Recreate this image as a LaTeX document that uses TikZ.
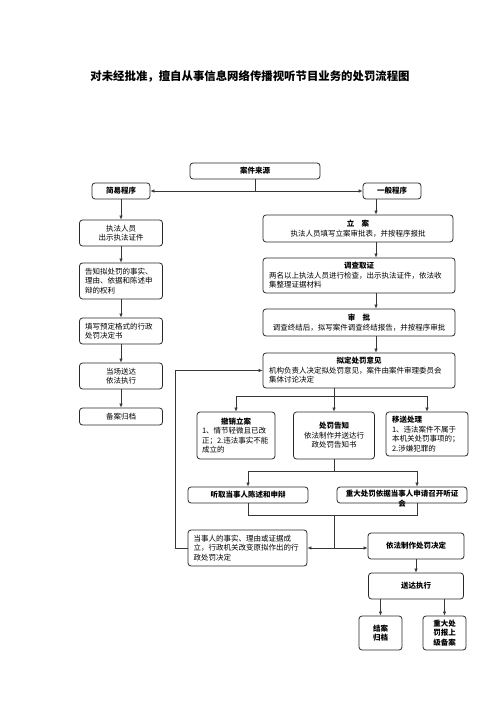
\documentclass[tikz,border=0pt]{standalone}
\usepackage{fontspec}
\setmainfont{Noto Sans CJK SC}
\usepackage{tikz}
\usetikzlibrary{arrows.meta,positioning,calc}
\definecolor{boxline}{RGB}{40,40,40}
\definecolor{flowline}{RGB}{55,55,55}
\tikzset{
  box/.style={draw=boxline,rounded corners=3pt,line width=0.8pt,inner sep=0pt,
    font=\fontsize{7.5}{9.5}\selectfont},
  flow/.style={line width=0.7pt,draw=flowline},
  arr/.style={-{Latex[length=4pt,width=3.6pt]},line width=0.7pt,draw=flowline}
}
\newcommand{\boxhead}[1]{\makebox[\linewidth]{\bfseries #1}}

\begin{document}
\begin{tikzpicture}[
  x=1pt,y=-1pt,
  titletext/.style={font=\bfseries\fontsize{11.4}{14}\selectfont},
  plain/.style={inner sep=0pt,font=\fontsize{7.5}{9.5}\selectfont}
]
\useasboundingbox (0,0) rectangle (500,708);

\node[titletext] (title) at (250,76)
  {对未经批准，擅自从事信息网络传播视听节目业务的处罚流程图};

% source and the two procedures
\node[box,minimum width=130pt,minimum height=16pt] (src) at (255,171) {\bfseries 案件来源};
\node[box,minimum width=58pt,minimum height=16pt] (simple) at (121,191) {\bfseries 简易程序};
\node[box,minimum width=58pt,minimum height=16pt] (general) at (392,191) {\bfseries 一般程序};

% simple procedure
\node[box,minimum width=83pt,minimum height=26pt,align=center] (s1) at (121,233)
  {执法人员\\出示执法证件};
\node[box,minimum width=83pt,minimum height=36pt,text width=72pt,align=left] (s2) at (121,281)
  {告知拟处罚的事实、\\理由、依据和陈述申\\辩的权利};
\node[box,minimum width=83pt,minimum height=26pt,text width=72pt,align=left] (s3) at (121,331)
  {填写预定格式的行政\\处罚决定书};
\node[box,minimum width=83pt,minimum height=26pt,align=center] (s4) at (121,376)
  {当场送达\\依法执行};
\node[box,minimum width=83pt,minimum height=17pt] (s5) at (121,416.5) {备案归档};

% general procedure
\node[box,minimum width=190pt,minimum height=27pt,text width=172pt,align=left] (g1) at (358,228.5)
  {\boxhead{立\quad 案}\\\makebox[\linewidth]{执法人员填写立案审批表，并按程序报批}};
\node[box,minimum width=192pt,minimum height=35pt,text width=180pt,align=left] (g2) at (359,275.5)
  {\boxhead{调查取证}\\两名以上执法人员进行检查，出示执法证件，依法收\\集整理证据材料};
\node[box,minimum width=192pt,minimum height=27pt,text width=180pt,align=left] (g3) at (359,322.5)
  {\boxhead{审\quad 批}\\\makebox[\linewidth]{调查终结后，拟写案件调查终结报告，并按程序审批}};
\node[box,minimum width=192pt,minimum height=35pt,text width=180pt,align=left] (g4) at (359,370.5)
  {\boxhead{拟定处罚意见}\\机构负责人决定拟处罚意见，案件由案件审理委员会\\集体讨论决定};

\node[box,minimum width=78pt,minimum height=47pt,text width=68pt,align=left] (c1) at (236,435.5)
  {\boxhead{撤销立案}\\1、情节轻微且已改\\正；2.违法事实不能\\成立的};
\node[box,minimum width=81pt,minimum height=47pt,align=center] (c2) at (334,435.5)
  {\bfseries 处罚告知\\依法制作并送达行\\政处罚告知书};
\node[box,minimum width=82pt,minimum height=44pt,text width=70pt,align=left] (c3) at (427,434)
  {{\bfseries 移送处理}\\1、违法案件不属于\\本机关处罚事项的；\\2.涉嫌犯罪的};

\node[box,minimum width=120pt,minimum height=16pt] (h1) at (248,495) {\bfseries 听取当事人陈述和申辩};
\node[box,minimum width=130pt,minimum height=16pt] (h2) at (402,495) {};
\node[plain,anchor=north,align=center] (h2text) at ([yshift=-3.5pt]h2.north)
  {\bfseries 重大处罚依据当事人申请召开听证\\\bfseries 会};

\node[box,minimum width=119pt,minimum height=36pt,text width=108pt,align=left] (r1) at (247.5,548)
  {当事人的事实、理由或证据成\\立，行政机关改变原拟作出的行\\政处罚决定};
\node[box,minimum width=96pt,minimum height=26pt] (d1) at (416,546) {\bfseries 依法制作处罚决定};
\node[box,minimum width=95pt,minimum height=26pt] (d2) at (416,586) {\bfseries 送达执行};

\node[box,minimum width=43pt,minimum height=34pt,align=center] (e1) at (380.5,633)
  {\bfseries 结案\\\bfseries 归档};
\node[box,minimum width=43pt,minimum height=34pt,align=center] (e2) at (444.5,633)
  {\bfseries 重大处\\\bfseries 罚报上\\\bfseries 级备案};

% helper coordinates
\coordinate (gx) at (376,0);
\coordinate (hx) at (417,0);
\coordinate (lx) at (175,0);
\coordinate (b1) at (0,396);
\coordinate (b2) at (0,471);
\coordinate (b3) at (0,515);

% connectors
\draw[flow] (src.south) -- (src.south |- simple.east);
\draw[arr] (src.south |- simple.east) -- (simple.east);
\draw[arr] (src.south |- general.west) -- (general.west);

\draw[arr] (simple.south) -- (s1.north);
\foreach \a/\b in {s1/s2,s2/s3,s3/s4,s4/s5}{
  \draw[arr] (\a.south) -- (\b.north);
}

\draw[arr] (general.south -| gx) -- (g1.north -| gx);
\foreach \a/\b in {g1/g2,g2/g3,g3/g4}{
  \draw[arr] (\a.south -| gx) -- (\b.north -| gx);
}

\draw[arr] (g4.south -| c2.north) -- (c2.north);
\draw[flow] (c1.north |- b1) -- (c3.north |- b1);
\foreach \c in {c1,c3}{
  \draw[arr] (\c.north |- b1) -- (\c.north);
}

\draw[flow] (c2.south) -- (c2.south |- b2);
\draw[flow] (h1.north |- b2) -- (hx |- b2);
\draw[arr] (h1.north |- b2) -- (h1.north);
\draw[arr] (hx |- b2) -- (h2.north -| hx);

\draw[flow] (h1.south) -- (h1.south |- b3) -- (hx |- b3) -- (h2.south -| hx);
\draw[flow] (c2.south |- b3) -- (c2.south |- r1.east);
\draw[arr] (c2.south |- r1.east) -- (r1.east);
\draw[arr] (c2.south |- r1.east) -- (d1.west |- r1.east);

\draw[arr] (r1.west) -- (r1.west -| lx) -- (lx |- g4.west) -- (g4.west);

\draw[arr] (d1.south) -- (d2.north);
\foreach \e in {e1,e2}{
  \draw[arr] (\e.north |- d2.south) -- (\e.north);
}

\end{tikzpicture}
\end{document}
